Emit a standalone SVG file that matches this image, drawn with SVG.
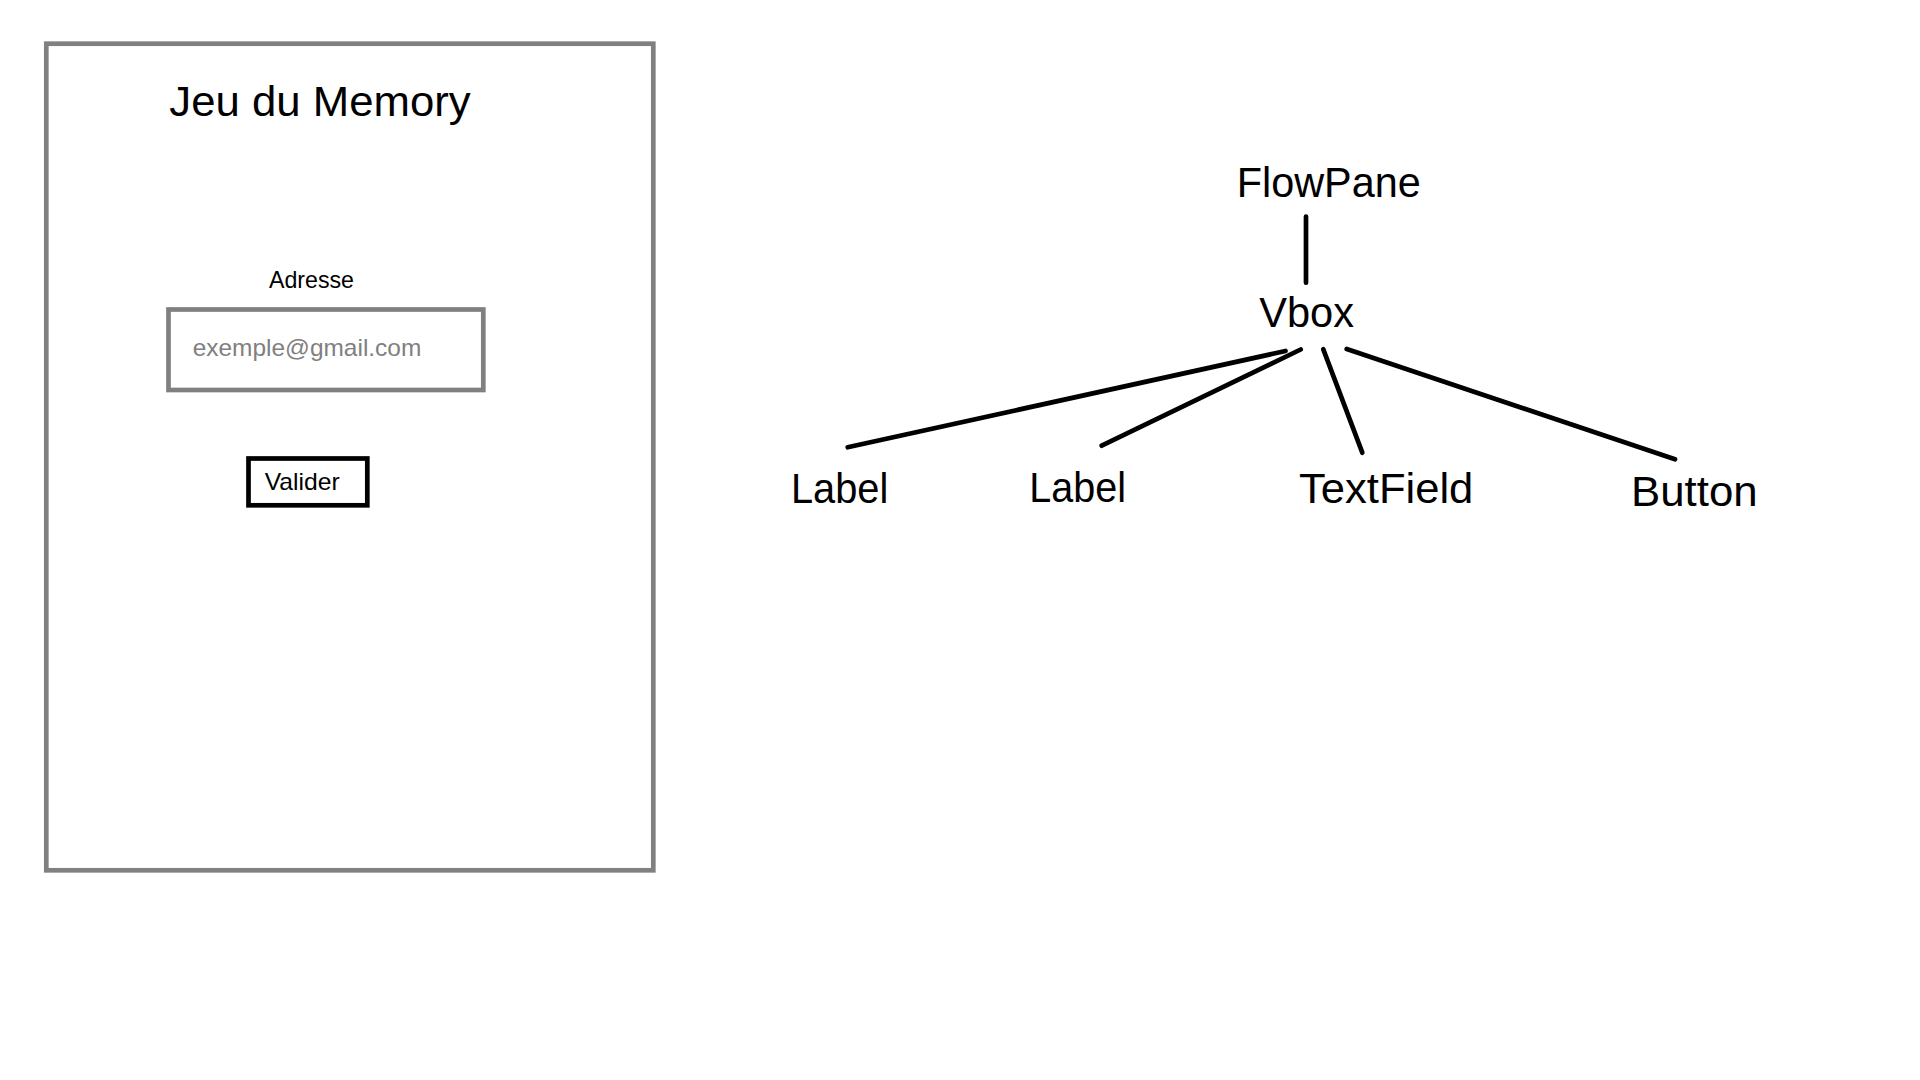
<svg xmlns="http://www.w3.org/2000/svg" width="1920" height="1080" viewBox="0 0 1920 1080">
<style>
text { font-family: "Liberation Sans", Arial, sans-serif; fill: #000; }
.big { font-size: 42px; }
.small { font-size: 24px; }
.conn { stroke: #000; stroke-width: 4.7; stroke-linecap: round; fill: none; }
.grayframe { fill: none; stroke: #808080; stroke-width: 4.7; }
</style>
<rect x="0" y="0" width="1920" height="1080" fill="#fff"/>
<g id="mockup">
  <rect class="grayframe" x="46.3" y="43.7" width="607" height="826.6"/>
  <text x="169.3" y="116" font-size="43" textLength="301.4" lengthAdjust="spacingAndGlyphs">Jeu du Memory</text>
  <text class="small" x="269" y="288.3" textLength="85" lengthAdjust="spacingAndGlyphs">Adresse</text>
  <rect class="grayframe" x="168.5" y="309.5" width="314.8" height="80.5"/>
  <text class="small" x="192.7" y="356" style="fill:#808080" textLength="228.6" lengthAdjust="spacingAndGlyphs">exemple@gmail.com</text>
  <rect x="248.5" y="458.5" width="118.8" height="46.8" fill="none" stroke="#000" stroke-width="4.7"/>
  <text class="small" x="264.7" y="490" textLength="75" lengthAdjust="spacingAndGlyphs">Valider</text>
</g>
<g id="connectors">
  <line class="conn" x1="1306" y1="216.7" x2="1306" y2="282.7"/>
  <line class="conn" x1="1285.5" y1="351" x2="847.7" y2="447.3"/>
  <line class="conn" x1="1300.7" y1="349.5" x2="1101.7" y2="445.7"/>
  <line class="conn" x1="1323.3" y1="349.3" x2="1362.3" y2="452.7"/>
  <line class="conn" x1="1346.7" y1="349" x2="1675" y2="459.3"/>
</g>
<g id="node-flowpane"><text class="big" x="1236.7" y="197.3" textLength="184" lengthAdjust="spacingAndGlyphs">FlowPane</text></g>
<g id="node-vbox"><text class="big" x="1259.3" y="326.7" textLength="94.7" lengthAdjust="spacingAndGlyphs">Vbox</text></g>
<g id="node-label1"><text class="big" x="791" y="503.3" textLength="97.3" lengthAdjust="spacingAndGlyphs">Label</text></g>
<g id="node-label2"><text class="big" x="1029.3" y="502.3" textLength="96.7" lengthAdjust="spacingAndGlyphs">Label</text></g>
<g id="node-textfield"><text class="big" x="1299" y="503.3" textLength="174.3" lengthAdjust="spacingAndGlyphs">TextField</text></g>
<g id="node-button"><text class="big" x="1631" y="505.7" textLength="126.7" lengthAdjust="spacingAndGlyphs">Button</text></g>
</svg>
